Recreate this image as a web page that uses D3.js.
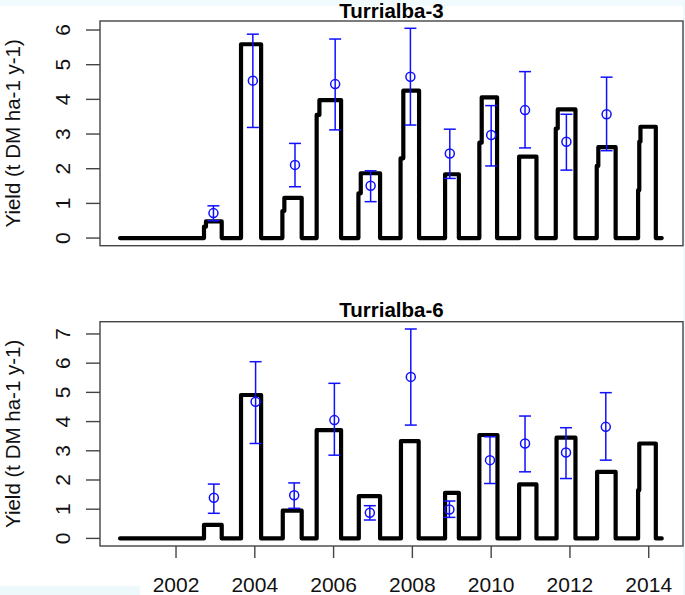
<!DOCTYPE html>
<html>
<head>
<meta charset="utf-8">
<script src="https://cdn.jsdelivr.net/npm/d3@7"></script>
<style>
  html, body { margin: 0; padding: 0; background: #fff; }
  svg { display: block; }
  text { font-family: "Liberation Sans", Arial, sans-serif; fill: #111; }
</style>
</head>
<body>
<svg id="chart" width="685" height="595"></svg>
<script>
// ---------- data ----------
const panelTitles = ["Turrialba-3", "Turrialba-6"];
const yTicks3 = [0, 1, 2, 3, 4, 5, 6];
const yTicks6 = [0, 1, 2, 3, 4, 5, 6, 7];
const xTickYears = [2002, 2004, 2006, 2008, 2010, 2012, 2014];
const yLabel = "Yield (t DM ha-1 y-1)";

// simulated yield (step series): date (decimal year) and value
const simDates3 = [2000.58, 2002.71, 2002.76, 2003.16, 2003.65, 2004.16, 2004.70, 2004.75, 2005.19,
  2005.57, 2005.64, 2006.19, 2006.63, 2006.69, 2007.18, 2007.70, 2007.77, 2008.17, 2008.83, 2009.18,
  2009.70, 2009.76, 2010.15, 2010.71, 2011.15, 2011.64, 2011.69, 2012.14, 2012.68, 2012.72, 2013.16,
  2013.73, 2013.76, 2013.79, 2014.18, 2014.33];
const simYield3 = [0, 0.33, 0.48, 0, 5.59, 0, 0.78, 1.16, 0,
  3.55, 3.98, 0, 1.29, 1.87, 0, 2.30, 4.25, 0, 1.84, 0,
  2.75, 4.06, 0, 2.35, 0, 3.16, 3.71, 0, 2.08, 2.62, 0,
  1.38, 2.78, 3.21, 0, 0];

const simDates6 = [2000.58, 2002.71, 2003.16, 2003.65, 2004.16, 2004.71, 2005.19, 2005.57, 2006.19,
  2006.64, 2007.18, 2007.71, 2008.16, 2008.83, 2009.18, 2009.70, 2010.16, 2010.71, 2011.15,
  2011.66, 2012.14, 2012.69, 2013.16, 2013.73, 2013.76, 2014.18, 2014.33];
const simYield6 = [0, 0.46, 0, 4.91, 0, 0.95, 0, 3.71, 0,
  1.45, 0, 3.33, 0, 1.56, 0, 3.54, 0, 1.85, 0,
  3.45, 0, 2.28, 0, 1.65, 3.25, 0, 0];

// observed yield: date, mean, lower, upper
const obsDates3 = [2002.95, 2003.95, 2005.02, 2006.04, 2006.94, 2007.95, 2008.95, 2010.00, 2010.86, 2011.91, 2012.93];
const obsMean3  = [0.72, 4.54, 2.11, 4.44, 1.51, 4.65, 2.44, 2.97, 3.69, 2.78, 3.57];
const obsLow3   = [0.50, 3.19, 1.48, 3.12, 1.05, 3.26, 1.72, 2.08, 2.60, 1.96, 2.52];
const obsHigh3  = [0.93, 5.88, 2.73, 5.74, 1.94, 6.05, 3.14, 3.82, 4.80, 3.57, 4.64];

const obsDates6 = [2002.96, 2004.02, 2005.00, 2006.02, 2006.92, 2007.96, 2008.94, 2009.97, 2010.86, 2011.90, 2012.91];
const obsMean6  = [1.39, 4.68, 1.48, 4.05, 0.88, 5.53, 0.99, 2.68, 3.25, 2.94, 3.82];
const obsLow6   = [0.86, 3.25, 1.03, 2.85, 0.63, 3.88, 0.72, 1.88, 2.28, 2.05, 2.68];
const obsHigh6  = [1.86, 6.05, 1.90, 5.31, 1.12, 7.17, 1.28, 3.48, 4.19, 3.79, 4.99];

// ---------- drawing ----------
const svg = d3.select("#chart");

// faint background artefacts of the reference image
svg.append("rect").attr("x", 0).attr("y", 0).attr("width", 685).attr("height", 6).attr("fill", "#f1fafc");
svg.append("rect").attr("x", 683).attr("y", 0).attr("width", 2).attr("height", 595).attr("fill", "#eef9fb");
svg.append("rect").attr("x", 0).attr("y", 586).attr("width", 140).attr("height", 9).attr("fill", "#eef9fb");

const x = d3.scaleLinear().domain([2000.07, 2014.87]).range([100, 683]);

const panels = [
  { title: panelTitles[0], top: 21, bottom: 245.7, yDomain: [-0.22, 6.26], yTicks: yTicks3,
    titleY: 17.5, simD: simDates3, simY: simYield3,
    oD: obsDates3, oM: obsMean3, oL: obsLow3, oH: obsHigh3, xAxis: false },
  { title: panelTitles[1], top: 321.7, bottom: 546, yDomain: [-0.26, 7.42], yTicks: yTicks6,
    titleY: 317, simD: simDates6, simY: simYield6,
    oD: obsDates6, oM: obsMean6, oL: obsLow6, oH: obsHigh6, xAxis: true }
];

panels.forEach(p => {
  const y = d3.scaleLinear().domain(p.yDomain).range([p.bottom, p.top]);
  const g = svg.append("g");

  // step line
  const pts = p.simD.map((d, i) => [d, p.simY[i]]);
  const line = d3.line().x(d => x(d[0])).y(d => y(d[1])).curve(d3.curveStepAfter);
  g.append("path").attr("d", line(pts))
    .attr("fill", "none").attr("stroke", "#000").attr("stroke-width", 4.2)
    .attr("stroke-linejoin", "round").attr("stroke-linecap", "round");

  // error bars
  const obs = p.oD.map((d, i) => ({ d, m: p.oM[i], l: p.oL[i], h: p.oH[i] }));
  const eb = g.append("g").attr("stroke", "#1010ff").attr("fill", "none").attr("stroke-width", 1.5);
  obs.forEach(o => {
    const cx = x(o.d);
    eb.append("line").attr("x1", cx).attr("x2", cx).attr("y1", y(o.l)).attr("y2", y(o.h));
    eb.append("line").attr("x1", cx - 6).attr("x2", cx + 6).attr("y1", y(o.l)).attr("y2", y(o.l));
    eb.append("line").attr("x1", cx - 6).attr("x2", cx + 6).attr("y1", y(o.h)).attr("y2", y(o.h));
    eb.append("circle").attr("cx", cx).attr("cy", y(o.m)).attr("r", 4.5);
  });

  // box
  g.append("rect").attr("x", 100).attr("y", p.top).attr("width", 583).attr("height", p.bottom - p.top)
    .attr("fill", "none").attr("stroke", "#444").attr("stroke-width", 1.4);

  // y axis ticks and labels
  p.yTicks.forEach(t => {
    g.append("line").attr("x1", 86).attr("x2", 100).attr("y1", y(t)).attr("y2", y(t))
      .attr("stroke", "#444").attr("stroke-width", 1.4);
    g.append("text").attr("transform", `translate(70,${y(t)}) rotate(-90)`)
      .attr("text-anchor", "middle").attr("font-size", 21).text(t);
  });

  // y axis title
  g.append("text").attr("transform", `translate(20,${(p.top + p.bottom) / 2}) rotate(-90)`)
    .attr("text-anchor", "middle").attr("font-size", 20.5).text(yLabel);

  // panel title
  g.append("text").attr("x", (100 + 683) / 2).attr("y", p.titleY)
    .attr("text-anchor", "middle").attr("font-size", 20.5).attr("font-weight", "bold")
    .style("fill", "#000").text(p.title);

  // x axis
  if (p.xAxis) {
    xTickYears.forEach(t => {
      g.append("line").attr("x1", x(t)).attr("x2", x(t)).attr("y1", p.bottom).attr("y2", p.bottom + 12)
        .attr("stroke", "#444").attr("stroke-width", 1.4);
      g.append("text").attr("x", x(t)).attr("y", 592).attr("text-anchor", "middle")
        .attr("font-size", 21).text(t);
    });
  }
});
</script>
</body>
</html>
